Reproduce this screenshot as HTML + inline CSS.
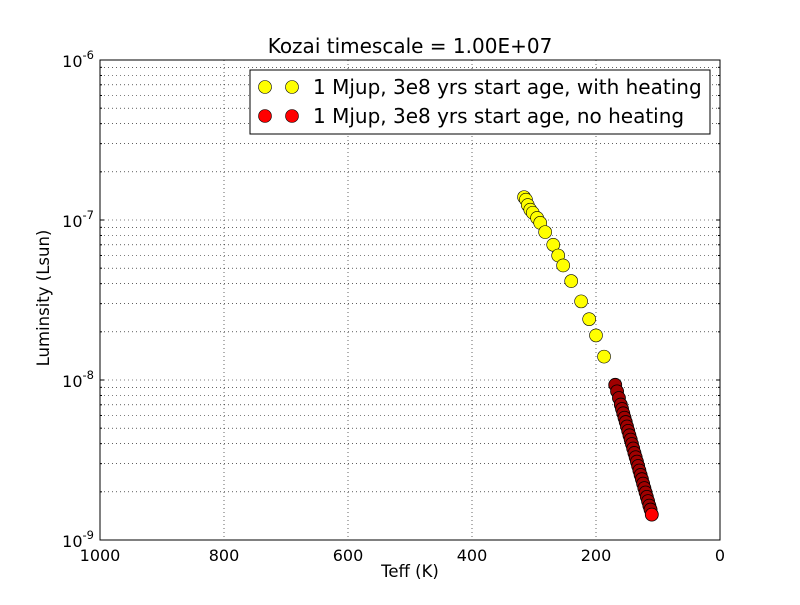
<!DOCTYPE html>
<html><head><meta charset="utf-8"><style>body{margin:0;background:#fff}svg{font-family:"DejaVu Sans","Liberation Sans",sans-serif}</style></head>
<body>
<svg id="c" width="800" height="600" xmlns="http://www.w3.org/2000/svg"></svg>
<script>
const xTicks=[1000,800,600,400,200,0];
const yDecades=[-9,-8,-7,-6];
const heatT=[316,313,310,306,302,295,290,282,269,261,253,240,224,211,200,187];
const heatL=[1.39e-7,1.34e-7,1.24e-7,1.16e-7,1.11e-7,1.03e-7,9.6e-8,8.4e-8,7.0e-8,6.0e-8,5.2e-8,4.15e-8,3.1e-8,2.4e-8,1.9e-8,1.4e-8];
const noT=[169,166,163,160,158,156,154,152,150,148,146,144,142,140,138,136,134,132,130,128,126,124,122,120,118,116,114,112,110];
const noL=[9.33e-9,8.49e-9,7.72e-9,7.02e-9,6.59e-9,6.19e-9,5.81e-9,5.46e-9,5.12e-9,4.81e-9,4.51e-9,4.24e-9,3.98e-9,3.73e-9,3.50e-9,3.29e-9,3.09e-9,2.90e-9,2.72e-9,2.55e-9,2.40e-9,2.25e-9,2.11e-9,1.98e-9,1.86e-9,1.75e-9,1.64e-9,1.55e-9,1.44e-9];
const L=100,R=720,T=60,B=540;
const sx=v=>L+(1000-v)/1000*(R-L);
const sy=v=>B-(Math.log10(v)+9)/3*(B-T);
const svg=document.getElementById('c');const NS='http://www.w3.org/2000/svg';
function mk(t,a,p){const e=document.createElementNS(NS,t);for(const k in a)e.setAttribute(k,a[k]);(p||svg).appendChild(e);return e;}
const g=mk('g',{});


xTicks.forEach(v=>{if(v>0&&v<1000)mk('line',{x1:sx(v),x2:sx(v),y1:T,y2:B,stroke:'#000','stroke-width':0.6,'stroke-dasharray':'1,3'},g);});
for(let d=-9;d<-6;d++)for(let m=1;m<10;m++){const v=m*Math.pow(10,d);if(d===-9&&m===1)continue;mk('line',{x1:L,x2:R,y1:sy(v),y2:sy(v),stroke:'#000','stroke-width':0.6,'stroke-dasharray':'1,3'},g);
mk('line',{x1:L,x2:L+2,y1:sy(v),y2:sy(v),stroke:'#000'},g);mk('line',{x1:R-2,x2:R,y1:sy(v),y2:sy(v),stroke:'#000'},g);}
xTicks.forEach(v=>{const t=mk('text',{x:sx(v),y:B+21,'text-anchor':'middle','font-size':16});t.textContent=v;

});
yDecades.forEach(d=>{const y=sy(Math.pow(10,d));const t=mk('text',{x:L-6,y:y+7,'text-anchor':'end','font-size':16});t.innerHTML='10<tspan dy="-8" font-size="11.5">'+d+'</tspan>';


mk('line',{x1:L,x2:L+4,y1:y,y2:y,stroke:'#000'});mk('line',{x1:R-4,x2:R,y1:y,y2:y,stroke:'#000'});});
heatT.forEach((v,i)=>{const c=mk('circle',{cx:sx(v),cy:sy(heatL[i]),r:6.5,fill:'#ffff00',stroke:'#000','stroke-width':0.6});

});
noT.forEach((v,i)=>{const c=mk('circle',{cx:sx(v),cy:sy(noL[i]),r:6.5,fill:i===noT.length-1?'#ff0000':'#a00000',stroke:'#000','stroke-width':0.8});

});
const f=mk('rect',{x:L,y:T,width:R-L,height:B-T,fill:'none',stroke:'#000'});


const ti=mk('text',{x:410,y:53,'text-anchor':'middle','font-size':20});ti.textContent='Kozai timescale = 1.00E+07';


const xl=mk('text',{x:410,y:577,'text-anchor':'middle','font-size':16.5});xl.textContent='Teff (K)';


const yl=mk('text',{x:49,y:298,'text-anchor':'middle','font-size':16.5,transform:'rotate(-90 49 298)'});yl.textContent='Luminsity (Lsun)';


const lg=mk('g',{});


mk('rect',{x:250,y:70,width:460,height:64,fill:'#fff',stroke:'#000'},lg);
[['#ffff00','1 Mjup, 3e8 yrs start age, with heating',87],['#ff0000','1 Mjup, 3e8 yrs start age, no heating',116]].forEach(a=>{
mk('circle',{cx:265,cy:a[2],r:6.5,fill:a[0],stroke:'#000','stroke-width':0.6},lg);mk('circle',{cx:292,cy:a[2],r:6.5,fill:a[0],stroke:'#000','stroke-width':0.6},lg);
const t=mk('text',{x:313,y:a[2]+7,'font-size':20},lg);t.textContent=a[1];

});
</script>
</body></html>
